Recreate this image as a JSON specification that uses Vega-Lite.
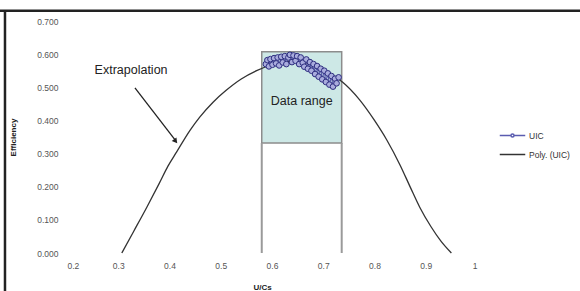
{
  "$schema": "https://vega.github.io/schema/vega-lite/v6.json",
  "width": 410,
  "height": 232,
  "autosize": {"type": "none"},
  "padding": {"left": 67, "top": 21, "right": 103, "bottom": 38},
  "background": "white",
  "config": {
    "view": {"stroke": null},
    "font": "Liberation Sans",
    "axis": {"domain": false, "ticks": false, "grid": false, "labelOverlap": false, "labelFont": "Liberation Sans", "labelFontSize": 8.5, "labelColor": "#555", "titleFont": "Liberation Sans", "titleFontSize": 8, "titleFontWeight": "bold", "titleColor": "#222"}
  },
  "datasets": {
    "curve": [
      {"x": 0.307, "y": 0.0}, {"x": 0.33, "y": 0.065}, {"x": 0.356, "y": 0.139}, {"x": 0.38, "y": 0.21},
      {"x": 0.397, "y": 0.262}, {"x": 0.414, "y": 0.305}, {"x": 0.44, "y": 0.37}, {"x": 0.459, "y": 0.41},
      {"x": 0.485, "y": 0.455}, {"x": 0.51, "y": 0.49}, {"x": 0.54, "y": 0.525}, {"x": 0.57, "y": 0.55},
      {"x": 0.60, "y": 0.568}, {"x": 0.63, "y": 0.578}, {"x": 0.66, "y": 0.575}, {"x": 0.69, "y": 0.56},
      {"x": 0.72, "y": 0.535}, {"x": 0.738, "y": 0.515}, {"x": 0.771, "y": 0.462}, {"x": 0.80, "y": 0.40},
      {"x": 0.824, "y": 0.341}, {"x": 0.85, "y": 0.265}, {"x": 0.87, "y": 0.198}, {"x": 0.888, "y": 0.139},
      {"x": 0.91, "y": 0.08}, {"x": 0.93, "y": 0.035}, {"x": 0.95, "y": 0.0}
    ],
    "uic": [
      {"x": 0.588, "y": 0.570}, {"x": 0.591, "y": 0.582}, {"x": 0.594, "y": 0.563}, {"x": 0.597, "y": 0.585},
      {"x": 0.601, "y": 0.568}, {"x": 0.604, "y": 0.588}, {"x": 0.608, "y": 0.572}, {"x": 0.611, "y": 0.590},
      {"x": 0.614, "y": 0.566}, {"x": 0.618, "y": 0.592}, {"x": 0.621, "y": 0.575}, {"x": 0.625, "y": 0.594},
      {"x": 0.628, "y": 0.570}, {"x": 0.632, "y": 0.590}, {"x": 0.635, "y": 0.598}, {"x": 0.639, "y": 0.576},
      {"x": 0.642, "y": 0.596}, {"x": 0.646, "y": 0.580}, {"x": 0.649, "y": 0.594}, {"x": 0.653, "y": 0.570},
      {"x": 0.656, "y": 0.590}, {"x": 0.660, "y": 0.574}, {"x": 0.663, "y": 0.562}, {"x": 0.667, "y": 0.584},
      {"x": 0.670, "y": 0.556}, {"x": 0.674, "y": 0.576}, {"x": 0.677, "y": 0.550}, {"x": 0.681, "y": 0.570},
      {"x": 0.684, "y": 0.540}, {"x": 0.688, "y": 0.564}, {"x": 0.691, "y": 0.532}, {"x": 0.695, "y": 0.556},
      {"x": 0.698, "y": 0.524}, {"x": 0.702, "y": 0.550}, {"x": 0.705, "y": 0.516}, {"x": 0.709, "y": 0.542},
      {"x": 0.712, "y": 0.508}, {"x": 0.716, "y": 0.534}, {"x": 0.719, "y": 0.502}, {"x": 0.723, "y": 0.526},
      {"x": 0.726, "y": 0.512}, {"x": 0.730, "y": 0.530}
    ]
  },
  "layer": [
    {
      "data": {"values": [{"x1": 0.58, "x2": 0.736, "y1": 0.332, "y2": 0.607}]},
      "mark": {"type": "rect", "fill": "#cde8e6", "stroke": "#8c8c8c", "strokeWidth": 1.5},
      "encoding": {
        "x": {"field": "x1", "type": "quantitative", "title": "U/Cs",
          "scale": {"domain": [0.2, 1.0], "nice": false, "zero": false},
          "axis": {"values": [0.2, 0.3, 0.4, 0.5, 0.6, 0.7, 0.8, 0.9, 1.0], "tickCount": 9, "format": "~g", "labelPadding": 8, "titleX": 195, "titleY": 30, "titleBaseline": "top"}},
        "x2": {"field": "x2"},
        "y": {"field": "y1", "type": "quantitative", "title": "Efficiency",
          "scale": {"domain": [0, 0.7], "nice": false},
          "axis": {"values": [0, 0.1, 0.2, 0.3, 0.4, 0.5, 0.6, 0.7], "tickCount": 8, "format": ".3f", "labelPadding": 9, "titleX": -50}},
        "y2": {"field": "y2"}
      }
    },
    {
      "data": {"values": [{"x1": 0.058, "x2": 1.25, "y": 0.731}]},
      "mark": {"type": "rule", "clip": false, "color": "#222", "strokeWidth": 2.5},
      "encoding": {"x": {"field": "x1", "type": "quantitative"}, "x2": {"field": "x2"}, "y": {"field": "y", "type": "quantitative"}}
    },
    {
      "data": {"values": [{"x": 0.079, "y1": 0.731, "y2": -0.2}]},
      "mark": {"type": "rule", "clip": false, "color": "#222", "strokeWidth": 2.5},
      "encoding": {"x": {"field": "x", "type": "quantitative"}, "y": {"field": "y1", "type": "quantitative"}, "y2": {"field": "y2"}}
    },
    {
      "data": {"values": [{"x": 0.58, "y1": 0, "y2": 0.332}, {"x": 0.736, "y1": 0, "y2": 0.332}]},
      "mark": {"type": "rule", "color": "#9a9a9a", "strokeWidth": 2},
      "encoding": {"x": {"field": "x", "type": "quantitative"}, "y": {"field": "y1", "type": "quantitative"}, "y2": {"field": "y2"}}
    },
    {
      "data": {"name": "curve"},
      "transform": [{"calculate": "'Poly. (UIC)'", "as": "series"}],
      "mark": {"type": "line", "strokeWidth": 1.3, "interpolate": "monotone"},
      "encoding": {
        "x": {"field": "x", "type": "quantitative"},
        "y": {"field": "y", "type": "quantitative"},
        "color": {"field": "series", "type": "nominal",
          "scale": {"domain": ["UIC", "Poly. (UIC)"], "range": ["#5a5cb0", "#333333"]},
          "legend": {"title": null, "orient": "none", "legendX": 432, "legendY": 101, "symbolType": "stroke", "symbolSize": 650, "symbolStrokeWidth": 1.5, "labelFontSize": 8.5, "labelColor": "#333", "labelFont": "Liberation Sans", "rowPadding": -8, "labelOffset": 3,
            "encode": {"symbols": {"update": {"shape": [{"test": "datum.value === 'UIC'", "value": "M-1,0H-0.12M0.12,0H1M0.12,0A0.12,0.12 0 1,1 -0.12,0A0.12,0.12 0 1,1 0.12,0"}, {"value": "stroke"}]}}}}
        }
      }
    },
    {
      "data": {"name": "uic"},
      "transform": [{"calculate": "'UIC'", "as": "series"}],
      "mark": {"type": "line", "strokeWidth": 1.2},
      "encoding": {
        "x": {"field": "x", "type": "quantitative"},
        "y": {"field": "y", "type": "quantitative"},
        "color": {"field": "series", "type": "nominal"}
      }
    },
    {
      "data": {"name": "uic"},
      "mark": {"type": "point", "filled": true, "fill": "#a9acdd", "stroke": "#2e2e80", "strokeWidth": 1, "size": 32, "opacity": 1},
      "encoding": {"x": {"field": "x", "type": "quantitative"}, "y": {"field": "y", "type": "quantitative"}}
    },
    {
      "data": {"values": [{"x": 0.3326, "y": 0.498, "x2": 0.412, "y2": 0.339}]},
      "mark": {"type": "rule", "color": "#222", "strokeWidth": 1.3},
      "encoding": {"x": {"field": "x", "type": "quantitative"}, "y": {"field": "y", "type": "quantitative"}, "x2": {"field": "x2"}, "y2": {"field": "y2"}}
    },
    {
      "data": {"values": [{"x": 0.412, "y": 0.337}]},
      "mark": {"type": "point", "shape": "triangle-up", "filled": true, "color": "#222", "size": 35, "angle": 142, "opacity": 1},
      "encoding": {"x": {"field": "x", "type": "quantitative"}, "y": {"field": "y", "type": "quantitative"}}
    },
    {
      "data": {"values": [{"x": 0.325, "y": 0.553, "t": "Extrapolation"}, {"x": 0.658, "y": 0.459, "t": "Data range"}]},
      "mark": {"type": "text", "font": "Liberation Sans", "fontSize": 12.5, "color": "#222", "baseline": "middle", "align": "center"},
      "encoding": {"x": {"field": "x", "type": "quantitative"}, "y": {"field": "y", "type": "quantitative"}, "text": {"field": "t"}}
    }
  ]
}
